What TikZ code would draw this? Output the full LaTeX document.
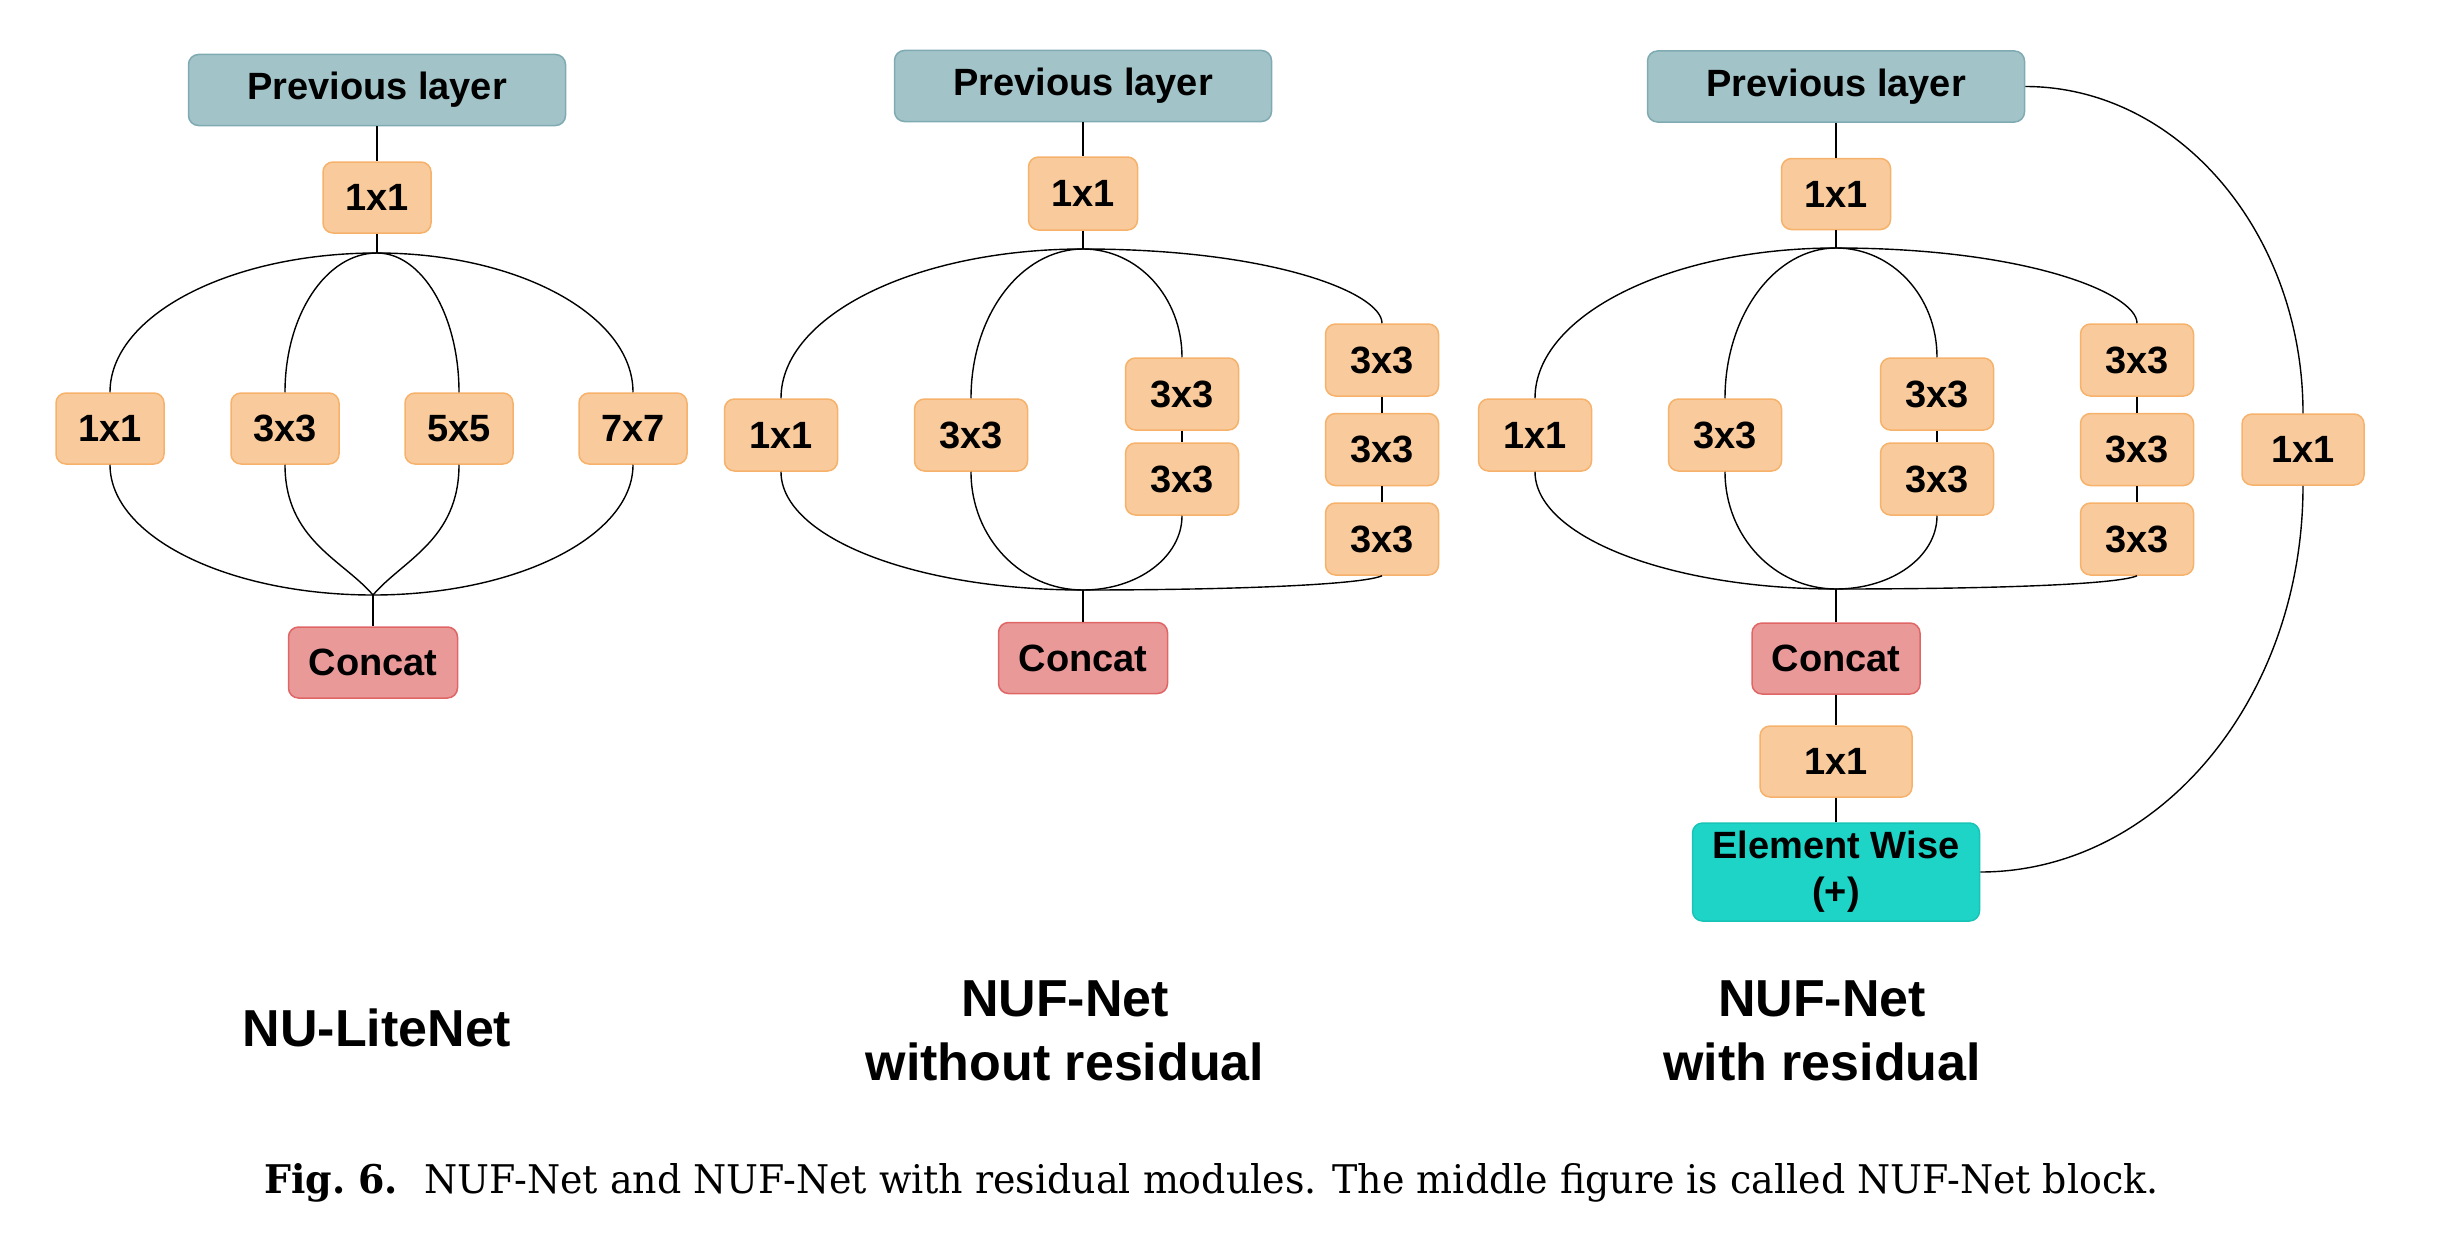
\documentclass[tikz,border=0pt]{standalone}
\usepackage{graphicx}
\usepackage{fontspec}
\setmainfont{Liberation Sans}
\newfontfamily\capfont{DejaVu Serif}
\definecolor{prevfill}{HTML}{A2C4C9}
\definecolor{prevdraw}{HTML}{7FAAB2}
\definecolor{convfill}{HTML}{F9CB9C}
\definecolor{convdraw}{HTML}{F6B26B}
\definecolor{catfill}{HTML}{EA9999}
\definecolor{catdraw}{HTML}{E06666}
\definecolor{ewfill}{HTML}{1DD4C6}
\definecolor{ewdraw}{HTML}{18C4B6}
\begin{document}
\begin{tikzpicture}[x=1pt,y=-1pt,
  box/.style={draw, rounded corners=10pt, inner sep=0pt, line width=1.5pt,
    font=\fontsize{38}{46}\selectfont\bfseries, text=black, align=center},
  prev/.style={box, fill=prevfill, draw=prevdraw, minimum width=377pt, minimum height=71pt},
  conv/.style={box, fill=convfill, draw=convdraw, minimum width=113pt, minimum height=72pt},
  cat/.style={box, fill=catfill, draw=catdraw, minimum width=169pt, minimum height=71pt},
  ew/.style={box, fill=ewfill, draw=ewdraw, minimum width=287pt, minimum height=98pt},
  title/.style={inner sep=0pt, font=\fontsize{52}{60}\selectfont\bfseries},
  link/.style={draw=black, line width=1.4pt}]
\useasboundingbox (0,0) rectangle (2447,1247);

% ---------------- Panel 1: NU-LiteNet ----------------
\node[prev] (p1) at (377,90) {Previous layer};
\node[conv, minimum width=108pt, minimum height=71pt] (p1c) at (377,197.5) {1x1};
\node[conv, minimum width=108pt, minimum height=71pt] (a1) at (110,428.5) {1x1};
\node[conv, minimum width=108pt, minimum height=71pt] (a2) at (285,428.5) {3x3};
\node[conv, minimum width=108pt, minimum height=71pt] (a3) at (459,428.5) {5x5};
\node[conv, minimum width=108pt, minimum height=71pt] (a4) at (633,428.5) {7x7};
\node[cat] (k1) at (373,662.5) {Concat};
\coordinate (j1t) at (377,253);
\coordinate (j1b) at (373,595);

\draw[link] (p1.south) -- (p1c.north);
\draw[link] (p1c.south) -- (j1t);
\draw[link] (j1t) .. controls +(-147,0) and +(0,-77) .. (a1.north);
\draw[link] (j1t) .. controls +(-51,0) and +(0,-77) .. (a2.north);
\draw[link] (j1t) .. controls +(45,0) and +(0,-77) .. (a3.north);
\draw[link] (j1t) .. controls +(141,0) and +(0,-77) .. (a4.north);
\draw[link] (a1.south) .. controls +(0,72) and +(-145,0) .. (j1b);
\draw[link] (a2.south) .. controls +(0,75) and +(-30,-35) .. (j1b);
\draw[link] (a3.south) .. controls +(0,75) and +(30,-35) .. (j1b);
\draw[link] (a4.south) .. controls +(0,72) and +(143,0) .. (j1b);
\draw[link] (j1b) -- (k1.north);

% ---------------- Panel 2: NUF-Net without residual ----------------
\node[prev] (p2) at (1083,86) {Previous layer};
\node[conv, minimum width=109pt, minimum height=73pt] (p2c) at (1083,193.5) {1x1};
\node[conv] (b1) at (781,435) {1x1};
\node[conv] (b2) at (971,435) {3x3};
\node[conv] (b3a) at (1182,394) {3x3};
\node[conv] (b3b) at (1182,479) {3x3};
\node[conv] (b4a) at (1382,360) {3x3};
\node[conv] (b4b) at (1382,449.5) {3x3};
\node[conv] (b4c) at (1382,539) {3x3};
\node[cat] (k2) at (1083,658) {Concat};
\coordinate (j2t) at (1083,249);
\coordinate (j2b) at (1083,590);

\draw[link] (p2.south) -- (p2c.north);
\draw[link] (p2c.south) -- (j2t);
\draw[link] (j2t) .. controls +(-167,0) and +(0,-83) .. (b1.north);
\draw[link] (j2t) .. controls +(-62,0) and +(0,-83) .. (b2.north);
\draw[link] (j2t) .. controls +(55,0) and +(0,-60) .. (b3a.north);
\draw[link] (j2t) .. controls +(190,0) and +(0,-30) .. (b4a.north);
\draw[link] (b3a.south) -- (b3b.north);
\draw[link] (b4a.south) -- (b4b.north);
\draw[link] (b4b.south) -- (b4c.north);
\draw[link] (b1.south) .. controls +(0,66) and +(-167,0) .. (j2b);
\draw[link] (b2.south) .. controls +(0,66) and +(-62,0) .. (j2b);
\draw[link] (b3b.south) .. controls +(0,41) and +(55,0) .. (j2b);
\draw[link] (b4c.south) .. controls +(-20,9) and +(150,0) .. (j2b);
\draw[link] (j2b) -- (k2.north);

% ---------------- Panel 3: NUF-Net with residual ----------------
\node[prev] (p3) at (1836,86.5) {Previous layer};
\node[conv, minimum width=109pt, minimum height=71pt] (p3c) at (1836,194) {1x1};
\node[conv] (c1) at (1535,435) {1x1};
\node[conv] (c2) at (1725,435) {3x3};
\node[conv] (c3a) at (1937,394) {3x3};
\node[conv] (c3b) at (1937,479) {3x3};
\node[conv] (c4a) at (2137,360) {3x3};
\node[conv] (c4b) at (2137,449.5) {3x3};
\node[conv] (c4c) at (2137,539) {3x3};
\node[conv, minimum width=122pt, minimum height=71pt] (r1) at (2303,449.5) {1x1};
\node[cat, minimum width=168pt] (k3) at (1836,658.5) {Concat};
\node[conv, minimum width=152pt, minimum height=71pt] (q3) at (1836,761.5) {1x1};
\node[ew] (e3) at (1836,872) {Element Wise\\(+)};
\coordinate (j3t) at (1836,248);
\coordinate (j3b) at (1836,589);

\draw[link] (p3.south) -- (p3c.north);
\draw[link] (p3c.south) -- (j3t);
\draw[link] (j3t) .. controls +(-166,0) and +(0,-83) .. (c1.north);
\draw[link] (j3t) .. controls +(-61,0) and +(0,-83) .. (c2.north);
\draw[link] (j3t) .. controls +(56,0) and +(0,-61) .. (c3a.north);
\draw[link] (j3t) .. controls +(190,0) and +(0,-30) .. (c4a.north);
\draw[link] (c3a.south) -- (c3b.north);
\draw[link] (c4a.south) -- (c4b.north);
\draw[link] (c4b.south) -- (c4c.north);
\draw[link] (c1.south) .. controls +(0,65) and +(-166,0) .. (j3b);
\draw[link] (c2.south) .. controls +(0,65) and +(-61,0) .. (j3b);
\draw[link] (c3b.south) .. controls +(0,41) and +(56,0) .. (j3b);
\draw[link] (c4c.south) .. controls +(-20,9) and +(150,0) .. (j3b);
\draw[link] (j3b) -- (k3.north);
\draw[link] (k3.south) -- (q3.north);
\draw[link] (q3.south) -- (e3.north);
\draw[link] (p3.east) .. controls +(153,0) and +(0,-180) .. (r1.north);
\draw[link] (r1.south) .. controls +(0,214) and +(178,0) .. (e3.east);

% ---------------- Titles ----------------
\node[title, anchor=base] (t1) at (377,1046) {NU-LiteNet};
\node[title, anchor=base] (t2a) at (1065,1016) {NUF-Net};
\node[title, anchor=base] (t2b) at (1065,1080) {without residual};
\node[title, anchor=base] (t3a) at (1822,1016) {NUF-Net};
\node[title, anchor=base] (t3b) at (1822,1080) {with residual};

% ---------------- Caption ----------------
\node[anchor=base west, inner sep=0pt] (cap) at (264,1193)
  {\resizebox{1894pt}{30pt}{\capfont\textbf{Fig.~6.}\hspace{0.7em}NUF-Net and NUF-Net with residual modules. The middle figure is called NUF-Net block.}};
\end{tikzpicture}
\end{document}
